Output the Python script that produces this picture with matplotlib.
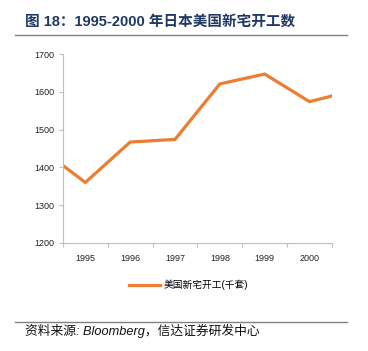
import matplotlib.pyplot as plt
import numpy as np

# US housing starts (thousand units), 1994-2001; axis shows 1995-2000
years = [1994, 1995, 1996, 1997, 1998, 1999, 2000, 2001]
starts = [1450, 1360, 1467, 1474, 1621, 1647, 1574, 1604]
shown_years = ['1995', '1996', '1997', '1998', '1999', '2000']
y_ticks = [1200, 1300, 1400, 1500, 1600, 1700]

title = '图 18：1995-2000 年日本美国新宅开工数'
legend_label = '美国新宅开工(千套)'
source = '资料来源: Bloomberg，信达证券研发中心'

fam = ['Liberation Sans', 'Noto Sans CJK SC', 'DejaVu Sans']
plt.rcParams['font.family'] = fam

fig = plt.figure(figsize=(3.68, 3.51), dpi=100)
ax = fig.add_axes([0.171, 0.308, 0.731, 0.538])

x = np.arange(len(years))
ax.plot(x, starts, color='#ED7D31', linewidth=2.3, solid_joinstyle='miter',
        label=legend_label)

ax.set_xlim(0.5, 6.5)
ax.set_ylim(1200, 1700)
ax.set_yticks(y_ticks)
ax.set_xticks(np.arange(0.5, 7, 1))
ax.set_xticklabels([])
ax.set_xticks(np.arange(1, 7), minor=True)
ax.set_xticklabels(shown_years, minor=True)

grey = '#BFBFBF'
for s in ['top', 'right']:
    ax.spines[s].set_visible(False)
for s in ['left', 'bottom']:
    ax.spines[s].set_color(grey)
    ax.spines[s].set_linewidth(0.8)
ax.tick_params(axis='both', which='major', length=3, color=grey, width=0.8,
               labelsize=6.5, labelcolor='#222222', pad=3)
ax.tick_params(axis='x', which='minor', length=0, labelsize=6.5,
               labelcolor='#222222', pad=8)

leg = fig.legend(loc='center', bbox_to_anchor=(0.512, 1 - 285 / 351), frameon=False,
                 prop={'family': fam, 'size': 7}, handlelength=3.2,
                 handletextpad=0.3)

fig.text(25 / 368, 1 - 22 / 351, title, fontsize=10.5, fontweight='bold',
         color='#1F3864', va='center', ha='left')
fig.add_artist(plt.Line2D([15 / 368, 347 / 368], [1 - 35 / 351, 1 - 35 / 351],
                          color='#808080', linewidth=1.0))
fig.add_artist(plt.Line2D([15 / 368, 347 / 368], [1 - 322 / 351, 1 - 322 / 351],
                          color='#808080', linewidth=1.0))
fig.text(25 / 368, 1 - 331 / 351, source, fontsize=9.2, style='italic',
         color='#111111', va='center', ha='left')

plt.savefig('out.png', dpi=100)
